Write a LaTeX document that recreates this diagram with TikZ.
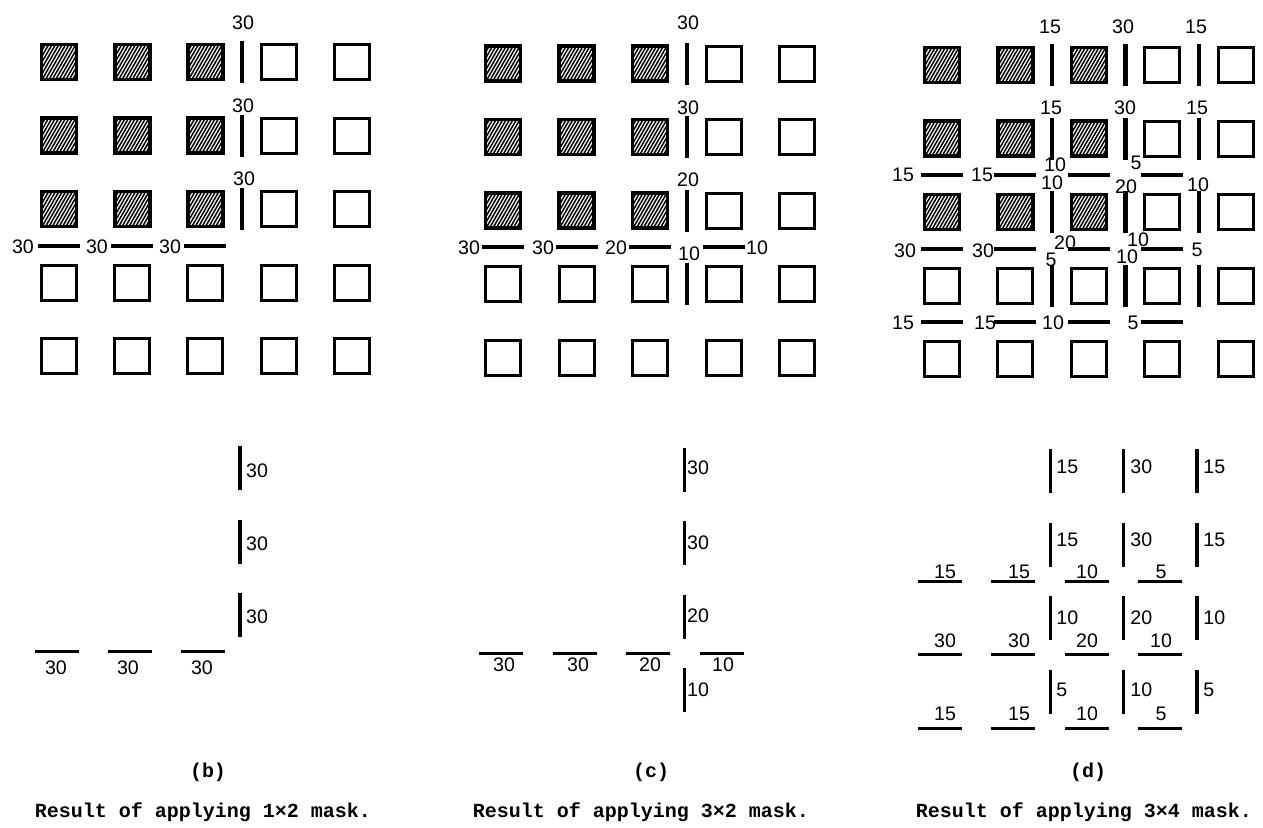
\documentclass[tikz,border=0pt]{standalone}
\usepackage{fontspec}
\usepackage{tikz}
\usetikzlibrary{calc}
\newfontfamily\numfont{Liberation Sans}
\newfontfamily\capfont{Liberation Mono}

% one wall segment between two cells of the current panel (\ox,\oy,\dx,\wl)
\newcommand{\vwall}[3][bar]{\draw[#1] ({\ox+\dx*(#2-0.5)},{\oy+73.5*(#3-1)-\wl/2}) -- ++(0,\wl);}
\newcommand{\hwall}[3][bar]{\draw[#1] ({\ox+\dx*(#2-1)-\wl/2},{\oy+73.5*(#3-0.5)}) -- ++(\wl,0);}

\begin{document}
\begin{tikzpicture}[
  x=0.5pt, y=-0.5pt,
  every node/.style={inner sep=0pt},
  cell/.style={draw,line width=1.5pt,minimum size=17.5pt},
  hatched/.style={cell,line width=1.8pt,path picture={
    \foreach \k in {-11,...,11}
      \draw[line width=0.75pt] ($(path picture bounding box.center)+(\k*1.7pt,0pt)$)
        ++(-6pt,-10.4pt) -- ++(12pt,20.8pt);}},
  bar/.style={line width=2.2pt},
  thinbar/.style={line width=1.6pt},
  num/.style={font=\numfont\fontsize{9.8}{10}\selectfont},
  captext/.style={font=\capfont\bfseries\fontsize{10}{12}\selectfont}
]
\useasboundingbox (0,0) rectangle (1263,827);

% cells of the three panels
\foreach \p/\ox/\oy/\dx in {b/59/62/73.2, c/503/63.5/73.5, d/942/65/73.4}{
  \foreach \c in {1,...,3} \foreach \r in {1,...,3}
    \node[hatched] (\p-\c-\r) at ({\ox+\dx*(\c-1)},{\oy+73.5*(\r-1)}) {};
  \foreach \c in {4,5} \foreach \r in {1,...,3}
    \node[cell] (\p-\c-\r) at ({\ox+\dx*(\c-1)},{\oy+73.5*(\r-1)}) {};
  \foreach \c in {1,...,5} \foreach \r in {4,5}
    \node[cell] (\p-\c-\r) at ({\ox+\dx*(\c-1)},{\oy+73.5*(\r-1)}) {};
}

% (b) 1x2 mask
\begin{scope}
  \def\ox{59}\def\oy{62}\def\dx{73.2}\def\wl{42}
  \foreach \r in {1,2,3} {\vwall{3}{\r}}
  \foreach \c in {1,2,3} {\hwall{\c}{3}}
  \def\ox{57}\def\oy{468}\def\wl{44}
  \foreach \r in {1,2,3} {\vwall[thinbar]{3}{\r}}
  \foreach \c in {1,2,3} {\hwall[thinbar]{\c}{3}}
\end{scope}
\foreach \x/\y/\t [count=\i] in {243/23/30, 243/106/30, 244/179/30,
    23/247/30, 97/247/30, 170/247/30,
    257/471/30, 257/544/30, 257/617/30,
    56/668/30, 128/668/30, 202/668/30}
  \node[num] (nb\i) at (\x,\y) {\t};

% (c) 3x2 mask
\begin{scope}
  \def\ox{503}\def\oy{63.5}\def\dx{73.5}\def\wl{42}
  \foreach \r in {1,...,4} {\vwall{3}{\r}}
  \foreach \c in {1,...,4} {\hwall{\c}{3}}
  \def\ox{501}\def\oy{469.5}\def\wl{44}
  \foreach \r in {1,...,4} {\vwall[thinbar]{3}{\r}}
  \foreach \c in {1,...,4} {\hwall[thinbar]{\c}{3}}
\end{scope}
\foreach \x/\y/\t [count=\i] in {688/23/30, 688/108/30, 688/180/20, 689/254/10,
    469/248/30, 543/248/30, 616/248/20, 757/248/10,
    698/468/30, 698/543/30, 698/616/20, 698/690/10,
    504/665/30, 578/665/30, 650/665/20, 723/665/10}
  \node[num] (nc\i) at (\x,\y) {\t};

% (d) 3x4 mask
\begin{scope}
  \def\ox{942}\def\oy{65}\def\dx{73.4}\def\wl{42}
  \foreach \g in {2,3,4} \foreach \r in {1,...,4} {\vwall{\g}{\r}}
  \foreach \r in {2,3,4} \foreach \c in {1,...,4} {\hwall{\c}{\r}}
  \def\ox{940}\def\oy{471}\def\wl{44}
  \foreach \g in {2,3,4} \foreach \r in {1,...,4} {\vwall[thinbar]{\g}{\r}}
  \foreach \r in {2,3,4} \foreach \c in {1,...,4} {\hwall[thinbar]{\c}{\r}}
\end{scope}
\foreach \x/\y/\t [count=\i] in {1050/27/15, 1123/27/30, 1196/27/15,
    1051/108/15, 1125/108/30, 1197/108/15,
    1052/183/10, 1126/187/20, 1198/185/10,
    1051/260/5, 1127/257/10, 1197/250/5,
    903/175/15, 982/175/15, 1055/165/10, 1136/163/5,
    905/251/30, 983/251/30, 1065/243/20, 1138/240/10,
    903/323/15, 985/323/15, 1053/323/10, 1133/323/5,
    945/572/15, 1019/572/15, 1087/572/10, 1161/572/5,
    945/641/30, 1019/641/30, 1087/641/20, 1161/641/10,
    945/714/15, 1019/714/15, 1087/714/10, 1161/714/5}
  \node[num] (nd\i) at (\x,\y) {\t};
\foreach \x/\y/\t [count=\i] in {1056/467/15, 1130/467/30, 1203/467/15,
    1056/540/15, 1130/540/30, 1203/540/15,
    1056/618/10, 1130/618/20, 1203/618/10,
    1056/690/5, 1130/690/10, 1203/690/5}
  \node[num,anchor=west] (ne\i) at (\x,\y) {\t};

% captions
\node[captext] (tagb) at (208,772) {(b)};
\node[captext] (capb) at (203,812) {Result of applying 1×2 mask.};
\node[captext] (tagc) at (651,772) {(c)};
\node[captext] (capc) at (641,812) {Result of applying 3×2 mask.};
\node[captext] (tagd) at (1088,772) {(d)};
\node[captext] (capd) at (1084,812) {Result of applying 3×4 mask.};
\end{tikzpicture}
\end{document}
